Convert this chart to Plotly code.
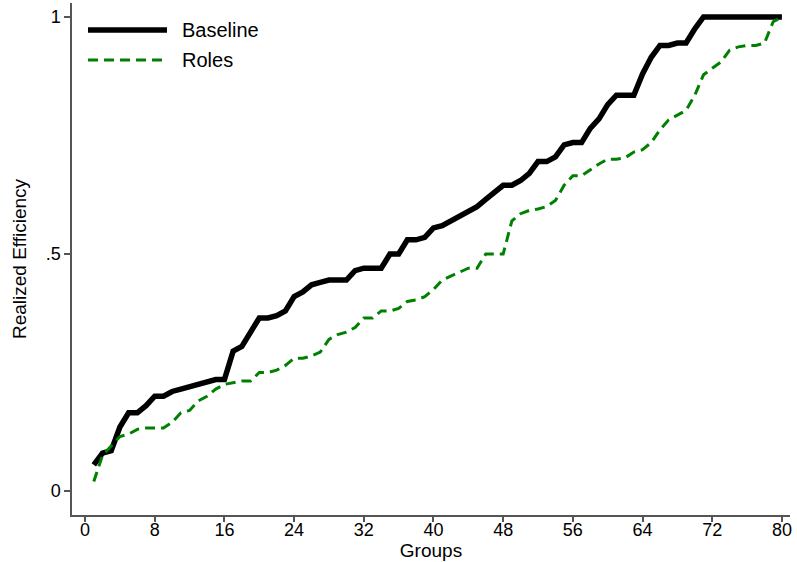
import plotly.graph_objects as go

groups = list(range(1, 81))

baseline = [0.055, 0.08, 0.085, 0.135, 0.165, 0.165, 0.18, 0.20, 0.20, 0.21,
            0.215, 0.22, 0.225, 0.23, 0.235, 0.235, 0.295, 0.305, 0.335, 0.365,
            0.365, 0.37, 0.38, 0.41, 0.42, 0.435, 0.44, 0.445, 0.445, 0.445,
            0.465, 0.47, 0.47, 0.47, 0.50, 0.50, 0.53, 0.53, 0.535, 0.555,
            0.56, 0.57, 0.58, 0.59, 0.60, 0.615, 0.63, 0.645, 0.645, 0.655,
            0.67, 0.695, 0.695, 0.705, 0.73, 0.735, 0.735, 0.765, 0.785, 0.815,
            0.835, 0.835, 0.835, 0.88, 0.915, 0.94, 0.94, 0.945, 0.945, 0.975,
            1.0, 1.0, 1.0, 1.0, 1.0, 1.0, 1.0, 1.0, 1.0, 1.0]

roles = [0.02, 0.075, 0.095, 0.115, 0.12, 0.13, 0.133, 0.133, 0.133, 0.145,
         0.165, 0.17, 0.19, 0.20, 0.215, 0.225, 0.228, 0.232, 0.232, 0.25,
         0.25, 0.255, 0.265, 0.28, 0.28, 0.285, 0.293, 0.32, 0.33, 0.335,
         0.345, 0.365, 0.365, 0.38, 0.38, 0.385, 0.40, 0.403, 0.41, 0.425,
         0.445, 0.453, 0.462, 0.47, 0.47, 0.50, 0.50, 0.50, 0.57, 0.585,
         0.592, 0.595, 0.60, 0.613, 0.645, 0.665, 0.665, 0.678, 0.69, 0.70,
         0.70, 0.703, 0.715, 0.72, 0.735, 0.762, 0.783, 0.793, 0.803, 0.835,
         0.878, 0.892, 0.905, 0.93, 0.937, 0.94, 0.94, 0.945, 0.99, 1.0]

x_ticks = list(range(0, 81, 8))
y_ticks = [0, 0.5, 1]
y_tick_labels = ["0", ".5", "1"]

GREEN = "#008000"
AXIS = "#555555"
FONT = "Liberation Sans, Arial, sans-serif"

fig = go.Figure()
fig.add_trace(go.Scatter(x=groups, y=baseline, mode="lines", name="Baseline",
                         line=dict(color="black", width=5.5)))
fig.add_trace(go.Scatter(x=groups, y=roles, mode="lines", name="Roles",
                         line=dict(color=GREEN, width=3, dash="10px,6px")))

# manual legend (paper coords)
fig.add_shape(type="line", xref="paper", yref="paper", x0=0.0223, x1=0.1323,
              y0=0.9473, y1=0.9473, line=dict(color="black", width=5.5))
fig.add_shape(type="line", xref="paper", yref="paper", x0=0.0223, x1=0.1323,
              y0=0.8887, y1=0.8887, line=dict(color=GREEN, width=3, dash="10px,6px"))
fig.add_annotation(xref="paper", yref="paper", x=0.1504, y=0.9473, text="Baseline",
                   showarrow=False, xanchor="left", yanchor="middle",
                   font=dict(family=FONT, size=20, color="black"))
fig.add_annotation(xref="paper", yref="paper", x=0.1504, y=0.8887, text="Roles",
                   showarrow=False, xanchor="left", yanchor="middle",
                   font=dict(family=FONT, size=20, color="black"))

fig.update_layout(
    width=797, height=562,
    margin=dict(l=72, r=7, t=3, b=47),
    paper_bgcolor="white", plot_bgcolor="white",
    showlegend=False,
    font=dict(family=FONT, size=18, color="black"),
    xaxis=dict(range=[-1.5, 80.93], tickvals=x_ticks, ticks="outside", ticklen=5,
               tickcolor=AXIS, tickwidth=1.5, showline=True, linecolor=AXIS,
               linewidth=1.5, showgrid=False, zeroline=False, automargin=False,
               ticklabelstandoff=-7,
               title=dict(text="Groups", standoff=3, font=dict(size=19)),
               tickfont=dict(size=18)),
    yaxis=dict(range=[-0.0506, 1.0295], tickvals=y_ticks, ticktext=y_tick_labels,
               ticks="outside", ticklen=6, tickcolor=AXIS, tickwidth=1.5,
               showline=True, linecolor=AXIS, linewidth=1.5, showgrid=False,
               zeroline=False, automargin=False,
               title=dict(text="Realized Efficiency", standoff=14, font=dict(size=19)),
               tickfont=dict(size=18)),
)

fig.write_html("out.html", config={"displayModeBar": False},
               post_script="document.body.style.margin='0';document.body.style.overflow='hidden';")
